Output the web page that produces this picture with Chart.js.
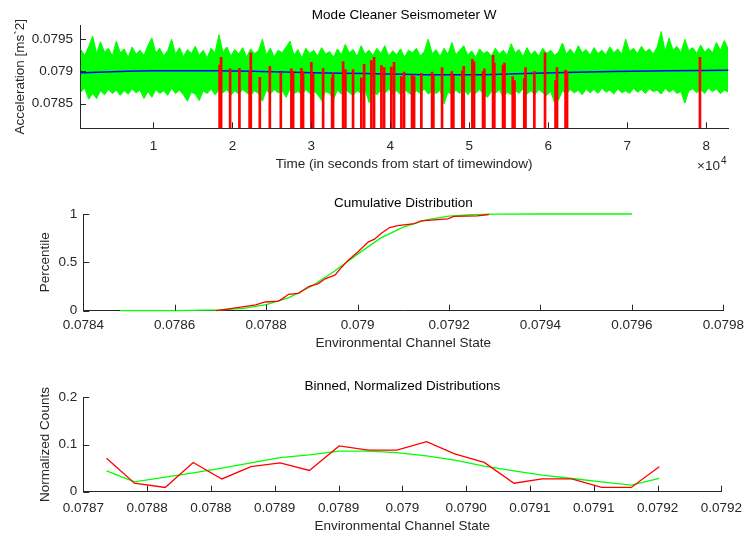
<!DOCTYPE html>
<html>
<head>
<meta charset="utf-8">
<script src="https://cdn.jsdelivr.net/npm/chart.js@4.4.1/dist/chart.umd.min.js"></script>
<style>
  html, body { margin: 0; padding: 0; background: #fff; }
  #wrap { position: relative; width: 750px; height: 535px; }
  canvas { position: absolute; left: 0; }
</style>
</head>
<body>
<div id="wrap">
  <canvas id="c1" width="750" height="180" style="top:0"></canvas>
  <canvas id="c2" width="750" height="180" style="top:180px"></canvas>
  <canvas id="c3" width="750" height="175" style="top:360px"></canvas>
</div>
<script>
// ---- top: seismometer time series ----
// green band: upper / lower envelope of the raw signal, one sample every 500 s from t=800 s
const greenT0 = 800;
const greenDt = 500;
const greenHigh = [
  0.07934, 0.07925, 0.07938, 0.07955, 0.07928, 0.07946, 0.07930, 0.07936, 0.07924, 0.07947,
  0.07929, 0.07935, 0.07922, 0.07938, 0.07927, 0.07933, 0.07925, 0.07940, 0.07952, 0.07929,
  0.07936, 0.07924, 0.07932, 0.07950, 0.07927, 0.07937, 0.07923, 0.07934, 0.07928, 0.07939,
  0.07925, 0.07933, 0.07921, 0.07936, 0.07929, 0.07957, 0.07930, 0.07938, 0.07924, 0.07934,
  0.07927, 0.07937, 0.07922, 0.07935, 0.07928, 0.07932, 0.07950, 0.07926, 0.07936, 0.07923,
  0.07933, 0.07929, 0.07938, 0.07947, 0.07925, 0.07934, 0.07921, 0.07936, 0.07928, 0.07933,
  0.07924, 0.07937, 0.07927, 0.07931, 0.07922, 0.07935, 0.07926, 0.07942, 0.07929, 0.07934,
  0.07923, 0.07940, 0.07927, 0.07933, 0.07925, 0.07936, 0.07928, 0.07940, 0.07924, 0.07932,
  0.07926, 0.07935, 0.07922, 0.07933, 0.07929, 0.07936, 0.07924, 0.07931, 0.07950, 0.07928,
  0.07934, 0.07923, 0.07936, 0.07927, 0.07945, 0.07926, 0.07933, 0.07940, 0.07925, 0.07932,
  0.07922, 0.07935, 0.07928, 0.07931, 0.07924, 0.07936, 0.07927, 0.07933, 0.07925, 0.07943,
  0.07929, 0.07934, 0.07923, 0.07937, 0.07926, 0.07932, 0.07924, 0.07936, 0.07928, 0.07933,
  0.07925, 0.07930, 0.07944, 0.07927, 0.07935, 0.07926, 0.07940, 0.07929, 0.07934, 0.07925,
  0.07937, 0.07928, 0.07933, 0.07926, 0.07938, 0.07929, 0.07935, 0.07927, 0.07950, 0.07931,
  0.07936, 0.07928, 0.07939, 0.07930, 0.07935, 0.07927, 0.07938, 0.07962, 0.07931, 0.07952,
  0.07933, 0.07939, 0.07929, 0.07950, 0.07932, 0.07937, 0.07928, 0.07941, 0.07930, 0.07936,
  0.07929, 0.07945, 0.07933, 0.07948, 0.07935
];
const greenLow = [
  0.07868, 0.07874, 0.07857, 0.07866, 0.07858, 0.07870, 0.07864, 0.07872, 0.07866, 0.07871,
  0.07863, 0.07870, 0.07865, 0.07873, 0.07867, 0.07871, 0.07858, 0.07869, 0.07860, 0.07872,
  0.07866, 0.07870, 0.07863, 0.07874, 0.07866, 0.07871, 0.07864, 0.07854, 0.07868, 0.07865,
  0.07855, 0.07870, 0.07866, 0.07873, 0.07864, 0.07871, 0.07867, 0.07872, 0.07863, 0.07870,
  0.07865, 0.07872, 0.07867, 0.07863, 0.07870, 0.07866, 0.07854, 0.07871, 0.07865, 0.07872,
  0.07867, 0.07870, 0.07860, 0.07873, 0.07866, 0.07869, 0.07864, 0.07872, 0.07866, 0.07870,
  0.07864, 0.07855, 0.07869, 0.07866, 0.07857, 0.07871, 0.07865, 0.07872, 0.07867, 0.07863,
  0.07870, 0.07866, 0.07872, 0.07852, 0.07868, 0.07864, 0.07871, 0.07866, 0.07873, 0.07865,
  0.07870, 0.07864, 0.07872, 0.07867, 0.07863, 0.07870, 0.07866, 0.07873, 0.07865, 0.07869,
  0.07866, 0.07871, 0.07850, 0.07868, 0.07864, 0.07871, 0.07866, 0.07873, 0.07864, 0.07870,
  0.07866, 0.07872, 0.07865, 0.07860, 0.07869, 0.07866, 0.07872, 0.07860, 0.07868, 0.07864,
  0.07871, 0.07866, 0.07873, 0.07865, 0.07870, 0.07864, 0.07872, 0.07867, 0.07863, 0.07869,
  0.07852, 0.07856, 0.07870, 0.07865, 0.07872, 0.07867, 0.07871, 0.07864, 0.07873, 0.07867,
  0.07872, 0.07866, 0.07874, 0.07868, 0.07871, 0.07865, 0.07873, 0.07867, 0.07870, 0.07866,
  0.07874, 0.07868, 0.07872, 0.07866, 0.07873, 0.07869, 0.07871, 0.07865, 0.07874, 0.07868,
  0.07872, 0.07866, 0.07869, 0.07851, 0.07870, 0.07873, 0.07867, 0.07872, 0.07866, 0.07874,
  0.07869, 0.07873, 0.07866, 0.07871, 0.07868
];
// smoothed trend (blue)
const blueT = [800, 10000, 18000, 23500, 30000, 37000, 45000, 51000, 55000, 61000, 68000, 75000, 82800];
const blueV = [0.07898, 0.07901, 0.07901, 0.07900, 0.07898, 0.07897, 0.07895, 0.07895, 0.07896, 0.07898, 0.07900, 0.07901, 0.07902];
// glitches (red): time and top value, each drops to 0
const redT = [
  18380, 18570, 19710, 20890, 22180, 22330, 23470, 24740, 26130, 27470,
  27690, 28740, 28950, 30000, 30220, 31490, 32630, 32750, 34020, 34310,
  35280, 36330, 36680, 37600, 37940, 38870, 39210, 40130, 40470, 41400,
  41740, 42750, 43010, 43930, 45290, 45450, 46550, 47780, 47980, 49120,
  49300, 50390, 50600, 51740, 51910, 53010, 53170, 54270, 54460, 55500,
  55730, 56960, 57120, 58240, 59590, 60920, 61110, 62190, 62380, 79210
];
const redTop = [
  0.07910, 0.07922, 0.07904, 0.07905, 0.07900, 0.07929, 0.07891, 0.07908, 0.07898, 0.07904,
  0.07900, 0.07905, 0.07900, 0.07914, 0.07897, 0.07905, 0.07890, 0.07897, 0.07915, 0.07903,
  0.07903, 0.07890, 0.07911, 0.07917, 0.07922, 0.07909, 0.07906, 0.07907, 0.07914, 0.07892,
  0.07899, 0.07895, 0.07892, 0.07897, 0.07899, 0.07895, 0.07906, 0.07900, 0.07894, 0.07901,
  0.07908, 0.07919, 0.07915, 0.07900, 0.07904, 0.07925, 0.07913, 0.07910, 0.07913, 0.07892,
  0.07886, 0.07889, 0.07906, 0.07900, 0.07929, 0.07886, 0.07906, 0.07902, 0.07900, 0.07922
];
const redFloor = 0;
const timeTicks = [10000, 20000, 30000, 40000, 50000, 60000, 70000, 80000];
const timeTickLabels = ["1", "2", "3", "4", "5", "6", "7", "8"];
const accTicks = [0.0785, 0.079, 0.0795];
const accTickLabels = ["0.0785", "0.079", "0.0795"];

// ---- middle: cumulative distribution ----
const cdfGreenX = [0.07848, 0.0786, 0.0787, 0.07875, 0.0788, 0.07885, 0.0789, 0.07895, 0.079, 0.07905, 0.0791, 0.07915, 0.0792, 0.07925, 0.0793, 0.0794, 0.0796];
const cdfGreenP = [0, 0.0005, 0.008, 0.024, 0.062, 0.135, 0.255, 0.41, 0.585, 0.75, 0.865, 0.94, 0.977, 0.992, 0.998, 1, 1];
const cdfRedX = [0.07869, 0.078726, 0.078777, 0.078798, 0.078827, 0.078834, 0.078849, 0.078871, 0.078893, 0.078914, 0.078929, 0.078951, 0.078965, 0.078979, 0.079001, 0.079023, 0.079037, 0.079052, 0.07907, 0.079088, 0.079124, 0.079139, 0.079197, 0.079211, 0.079262, 0.079287];
const cdfRedP = [0, 0.025, 0.06, 0.09, 0.10, 0.12, 0.17, 0.18, 0.25, 0.28, 0.33, 0.37, 0.45, 0.52, 0.61, 0.71, 0.74, 0.80, 0.86, 0.88, 0.90, 0.93, 0.95, 0.975, 0.98, 0.995];
const stateTicks = [0.0784, 0.0786, 0.0788, 0.079, 0.0792, 0.0794, 0.0796, 0.0798];
const stateTickLabels = ["0.0784", "0.0786", "0.0788", "0.079", "0.0792", "0.0794", "0.0796", "0.0798"];
const pctTicks = [0, 0.5, 1];
const pctTickLabels = ["0", "0.5", "1"];

// ---- bottom: binned, normalized distributions ----
const binX = [0.0787182, 0.0787401, 0.0787642, 0.0787861, 0.0788086, 0.0788314, 0.0788542, 0.0788772, 0.0789005, 0.0789232,
              0.0789457, 0.0789690, 0.0789910, 0.0790142, 0.0790375, 0.0790596, 0.0790828, 0.0791061, 0.0791294, 0.0791513];
const binRed = [0.071, 0.018, 0.009, 0.062, 0.027, 0.053, 0.061, 0.045, 0.097, 0.088,
                0.088, 0.106, 0.080, 0.062, 0.018, 0.027, 0.027, 0.009, 0.009, 0.053];
const binGreen = [0.044, 0.021, 0.031, 0.040, 0.050, 0.061, 0.072, 0.078, 0.086, 0.086,
                  0.083, 0.076, 0.067, 0.054, 0.044, 0.035, 0.028, 0.021, 0.014, 0.028];
const binTicks = [0.07870, 0.07875, 0.07880, 0.07885, 0.07890, 0.07895, 0.07900, 0.07905, 0.07910, 0.07915, 0.07920];
const binTickLabels = ["0.0787", "0.0788", "0.0788", "0.0789", "0.0789", "0.079", "0.0790", "0.0791", "0.0791", "0.0792", "0.0792"];
const countTicks = [0, 0.1, 0.2];
const countTickLabels = ["0", "0.1", "0.2"];

const FAMILY = "'Liberation Sans', Arial, Helvetica, sans-serif";
const FONT_SIZE = 13.5;
const INK = "#262626";
const GREEN = "#00ff00";
const RED = "#ff0000";
const BLUE = "#0000ff";

// MATLAB style: ticks point inwards, titles and labels drawn around the axes box
const matlabAxes = {
  id: "matlabAxes",
  afterDraw(chart, args, opts) {
    const { ctx, chartArea: a, scales } = chart;
    ctx.save();
    ctx.strokeStyle = INK;
    ctx.lineWidth = 1;
    scales.x.ticks.forEach(t => {
      const px = Math.round(scales.x.getPixelForValue(t.value)) + 0.5;
      ctx.beginPath(); ctx.moveTo(px, a.bottom); ctx.lineTo(px, a.bottom - 6); ctx.stroke();
    });
    scales.y.ticks.forEach(t => {
      const py = Math.round(scales.y.getPixelForValue(t.value)) + 0.5;
      ctx.beginPath(); ctx.moveTo(a.left, py); ctx.lineTo(a.left + 6, py); ctx.stroke();
    });
    const cx = (a.left + a.right) / 2;
    ctx.font = FONT_SIZE + "px " + FAMILY;
    ctx.textAlign = "center";
    ctx.textBaseline = "middle";
    ctx.fillStyle = "#000";
    ctx.fillText(opts.title, cx, opts.titleY);
    ctx.fillStyle = INK;
    ctx.fillText(opts.xLabel, cx, opts.xLabelY);
    ctx.save();
    ctx.translate(opts.yLabelX, (a.top + a.bottom) / 2);
    ctx.rotate(-Math.PI / 2);
    ctx.fillText(opts.yLabel, 0, 0);
    ctx.restore();
    if (opts.exponent) {
      ctx.textAlign = "left";
      ctx.fillText("\u00d710", opts.expX, opts.expY);
      const w = ctx.measureText("\u00d710").width;
      ctx.font = "10px " + FAMILY;
      ctx.fillText(opts.exponent, opts.expX + w + 1, opts.expY - 5);
    }
    ctx.restore();
  }
};

function xAxis(min, max, vals, labels, height, pad) {
  return {
    type: "linear", min, max, offset: false,
    grid: { display: false, drawTicks: false, offset: false },
    border: { display: true, color: INK, width: 1 },
    afterBuildTicks: s => { s.ticks = vals.map(v => ({ value: v })); },
    afterFit: s => { s.height = height; },
    ticks: { color: INK, font: { family: FAMILY, size: FONT_SIZE }, padding: pad, maxRotation: 0, autoSkip: false,
             callback: (v, i) => labels[i] }
  };
}
function yAxis(min, max, vals, labels, width, pad) {
  return {
    type: "linear", min, max,
    grid: { display: false, drawTicks: false },
    border: { display: true, color: INK, width: 1 },
    afterBuildTicks: s => { s.ticks = vals.map(v => ({ value: v })); },
    afterFit: s => { s.width = width; },
    ticks: { color: INK, font: { family: FAMILY, size: FONT_SIZE }, padding: pad, autoSkip: false,
             callback: (v, i) => labels[i] }
  };
}
function baseOptions(padding, scales, axesText) {
  return {
    responsive: false, animation: false, devicePixelRatio: 1, events: [],
    layout: { padding },
    plugins: { legend: { display: false }, tooltip: { enabled: false }, matlabAxes: axesText },
    scales
  };
}
const pts = (xs, ys) => xs.map((x, i) => ({ x, y: ys[i] }));
const line = (data, color, width, order) => ({
  data, borderColor: color, backgroundColor: color, borderWidth: width,
  pointRadius: 0, tension: 0, fill: false, order, clip: 4
});

new Chart(document.getElementById("c1"), {
  type: "line",
  data: {
    datasets: [
      Object.assign(line(greenHigh.map((v, i) => ({ x: greenT0 + i * greenDt, y: v })), GREEN, 1, 3), { fill: "+1", clip: 0 }),
      Object.assign(line(greenLow.map((v, i) => ({ x: greenT0 + i * greenDt, y: v })), GREEN, 1, 2), { clip: 0 }),
      Object.assign(line(pts(blueT, blueV), BLUE, 1.5, 1), { cubicInterpolationMode: "monotone" }),
      { type: "bar", data: redT.map((t, i) => ({ x: t, y: [redFloor, redTop[i]] })),
        backgroundColor: RED, borderWidth: 0, barThickness: 2, grouped: false, clip: 0, order: 0 }
    ]
  },
  options: baseOptions(
    { top: 25, left: 0, right: 21.7, bottom: 0 },
    { x: xAxis(700, 82800, timeTicks, timeTickLabels, 51.7, 10),
      y: yAxis(0.07812, 0.07972, accTicks, accTickLabels, 80, 7) },
    { title: "Mode Cleaner Seismometer W", titleY: 15,
      xLabel: "Time (in seconds from start of timewindow)", xLabelY: 164.5,
      yLabel: "Acceleration [ms`2]", yLabelX: 20,
      exponent: "4", expX: 697, expY: 166 }
  ),
  plugins: [matlabAxes]
});

new Chart(document.getElementById("c2"), {
  type: "line",
  data: {
    datasets: [
      line(pts(cdfGreenX, cdfGreenP), GREEN, 1.3, 2),
      line(pts(cdfRedX, cdfRedP), RED, 1.3, 1)
    ]
  },
  options: baseOptions(
    { top: 34, left: 0, right: 22.3, bottom: 0 },
    { x: xAxis(0.0784, 0.0798, stateTicks, stateTickLabels, 49.3, 6),
      y: yAxis(0, 1, pctTicks, pctTickLabels, 83.3, 6) },
    { title: "Cumulative Distribution", titleY: 23.3,
      xLabel: "Environmental Channel State", xLabelY: 163,
      yLabel: "Percentile", yLabelX: 45 }
  ),
  plugins: [matlabAxes]
});

new Chart(document.getElementById("c3"), {
  type: "line",
  data: {
    datasets: [
      line(pts(binX, binGreen), GREEN, 1.3, 2),
      line(pts(binX, binRed), RED, 1.3, 1)
    ]
  },
  options: baseOptions(
    { top: 37.3, left: 0, right: 22.3, bottom: 0 },
    { x: xAxis(0.0787, 0.0792, binTicks, binTickLabels, 43.3, 8),
      y: yAxis(0, 0.2, countTicks, countTickLabels, 83.3, 6) },
    { title: "Binned, Normalized Distributions", titleY: 26.7,
      xLabel: "Environmental Channel State", xLabelY: 166.7,
      yLabel: "Normalized Counts", yLabelX: 45 }
  ),
  plugins: [matlabAxes]
});
</script>
</body>
</html>
